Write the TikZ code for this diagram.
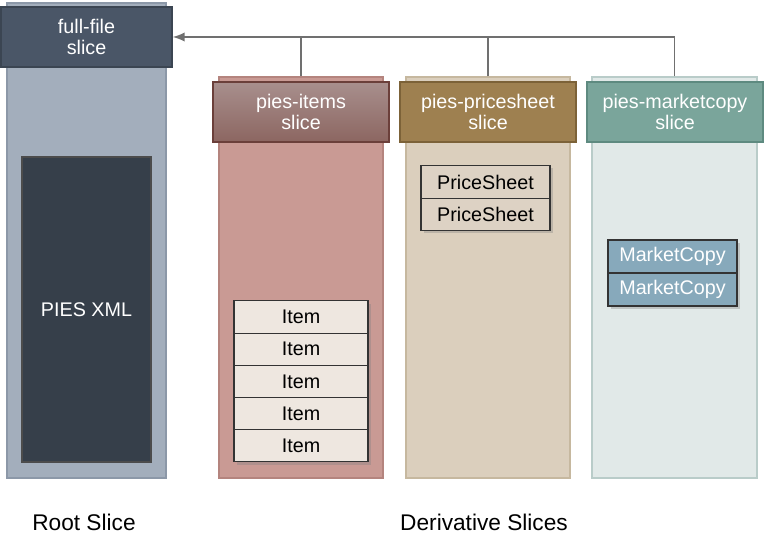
\documentclass[tikz,border=0pt]{standalone}
\usepackage{fontspec}
\setmainfont{Liberation Sans}
\usetikzlibrary{shadows,arrows.meta}
\definecolor{rootbg}{HTML}{A3AEBC}
\definecolor{rootln}{HTML}{8C98A8}
\definecolor{roothd}{HTML}{4A5667}
\definecolor{rootdk}{HTML}{363F4A}
\definecolor{itembg}{HTML}{C99A94}
\definecolor{itemln}{HTML}{B4847E}
\definecolor{itemtop}{HTML}{A88F8D}
\definecolor{itembot}{HTML}{8C6661}
\definecolor{itemhl}{HTML}{6B3F3A}
\definecolor{itembx}{HTML}{EEE7E0}
\definecolor{pricebg}{HTML}{DBCFBD}
\definecolor{priceln}{HTML}{C6B89F}
\definecolor{pricehd}{HTML}{9E8050}
\definecolor{pricehl}{HTML}{7C6238}
\definecolor{pricebx}{HTML}{DDD2C4}
\definecolor{mktbg}{HTML}{E1E9E8}
\definecolor{mktln}{HTML}{B9CCC9}
\definecolor{mkthd}{HTML}{7AA59B}
\definecolor{mkthl}{HTML}{5E8A80}
\definecolor{mktbx}{HTML}{87A9BB}
\definecolor{link}{HTML}{707070}
\begin{document}
\begin{tikzpicture}[x=0.75pt,y=-0.75pt,
  txt/.style={font=\fontsize{14.8}{16}\selectfont, align=center},
  col/.style={rectangle, line width=1pt, minimum width=123pt, minimum height=300.75pt},
  hdr/.style={rectangle, txt, text=white, line width=1pt, minimum width=132pt, minimum height=45pt},
  rec/.style={rectangle, txt, draw=black!80, line width=0.8pt, inner sep=0pt,
    drop shadow={shadow xshift=2pt, shadow yshift=-2pt, opacity=0.35}},
  lnk/.style={draw=link, line width=1.2pt}]
\useasboundingbox (0,0) rectangle (765,548);
% root slice
\node[rectangle, fill=rootbg, draw=rootln, line width=1pt, minimum width=119.25pt, minimum height=356.25pt] (col0) at (86.5,240.5){};
\node[hdr, fill=roothd, draw=roothd!80!black, minimum width=128.25pt] (hd0) at (86.5,37){full-file\\slice};
\node[rectangle, txt, text=white, fill=rootdk, draw=black!70, line width=0.8pt, minimum width=96.75pt, minimum height=228.75pt] (xml) at (86.5,309.5){PIES XML};
% derivative slices
\node[col, fill=itembg, draw=itemln] (col1) at (301,277.5){};
\node[col, fill=pricebg, draw=priceln] (col2) at (488,277.5){};
\node[col, fill=mktbg, draw=mktln, minimum width=123.75pt] (col3) at (674.5,277.5){};
\node[hdr, top color=itemtop, bottom color=itembot, draw=itemhl] (hd1) at (301,112){pies-items\\slice};
\node[hdr, fill=pricehd, draw=pricehl] (hd2) at (488,112){pies-pricesheet\\slice};
\node[hdr, fill=mkthd, draw=mkthl] (hd3) at (675,112){pies-marketcopy\\slice};
% records
\foreach \i in {0,...,4}
  \node[rec, fill=itembx, minimum width=100.5pt, minimum height=24.15pt] (it\i) at (301,317+32.2*\i){Item};
\foreach \i in {0,1}
  \node[rec, fill=pricebx, minimum width=96.75pt, minimum height=24.4pt] (ps\i) at (485.5,182+32.5*\i){PriceSheet};
\foreach \i in {0,1}
  \node[rec, fill=mktbx, text=white, minimum width=96.75pt, minimum height=24.75pt] (mc\i) at (672.5,256.5+33*\i){MarketCopy};
% links
\draw[lnk, -{Latex[length=9pt,width=7pt]}] (col3.north) |- (hd0.east);
\draw[lnk] (col1.north) -- (col1.north |- hd0.east);
\draw[lnk] (col2.north) -- (col2.north |- hd0.east);
% captions
\node[txt, font=\fontsize{17}{19}\selectfont] (cap0) at (84,522){Root Slice};
\node[txt, font=\fontsize{17}{19}\selectfont] (cap1) at (484,522){Derivative Slices};
\end{tikzpicture}
\end{document}
